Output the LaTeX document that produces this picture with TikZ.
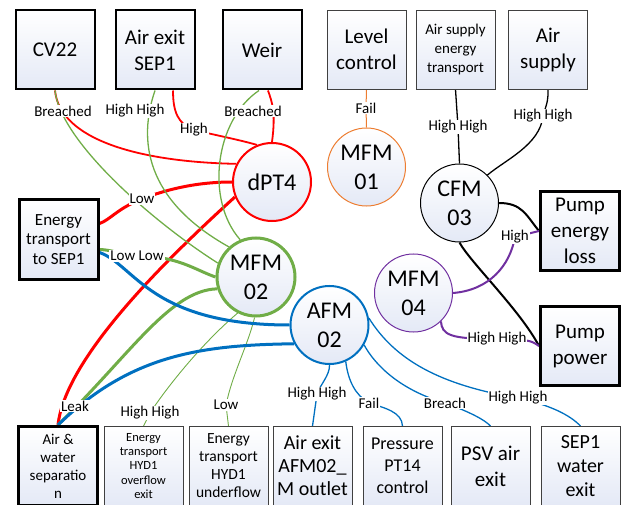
\documentclass[tikz,border=0pt]{standalone}
\usepackage{fontspec}
\setmainfont{Carlito}
\usepackage{xcolor}
\usepackage{tikz}
\usetikzlibrary{backgrounds}
\definecolor{fmred}{RGB}{255,0,0}
\definecolor{fmgreen}{RGB}{112,173,71}
\definecolor{fmblue}{RGB}{0,112,192}
\definecolor{fmorange}{RGB}{237,125,49}
\definecolor{fmpurple}{RGB}{112,48,160}
\definecolor{fmfill}{RGB}{228,233,246}

\begin{document}
\begin{tikzpicture}[x=1pt, y=-1pt]
	\tikzstyle{fmbox}=[rectangle, draw=black!75, line width=0.9pt, minimum width=79pt, minimum height=79pt, inner sep=1pt, align=center, top color=white, bottom color=fmfill, font=\fontsize{21}{26}\selectfont]
	\tikzstyle{fmthick}=[draw=black, line width=2pt]
	\tikzstyle{fmheavy}=[draw=black, line width=3pt]
	\tikzstyle{fmcircle}=[circle, minimum size=78pt, inner sep=0pt, align=center, top color=white, bottom color=fmfill, font=\fontsize{24}{29}\selectfont]
	\tikzstyle{fmlabel}=[fill=white, inner sep=1pt, font=\fontsize{15}{17}\selectfont]

	\useasboundingbox (0,0) rectangle (621,505);

	% top row
	\node[fmbox, fmthick] (cv) at (55,50) {CV22};
	\node[fmbox, fmthick] (airsep) at (155,50) {Air exit\\SEP1};
	\node[fmbox, fmthick] (weir) at (262,50) {Weir};
	\node[fmbox] (level) at (366.5,49.5) {Level\\control};
	\node[fmbox, font=\fontsize{15}{19}\selectfont] (aset) at (455.5,49.5) {Air supply\\energy\\transport};
	\node[fmbox] (airsup) at (548,49.5) {Air\\supply};

	% side boxes
	\node[fmbox, fmheavy, font=\fontsize{17}{19.5}\selectfont] (etsep) at (58.5,239.5) {Energy\\transport\\to SEP1};
	\node[fmbox, fmheavy] (pel) at (580,231) {Pump\\energy\\loss};
	\node[fmbox, fmheavy] (pp) at (580,346) {Pump\\power};

	% bottom row
	\node[fmbox, fmheavy, font=\fontsize{15}{18}\selectfont] (aws) at (58,466) {Air \&\\water\\separatio\\n};
	\node[fmbox, font=\fontsize{12.5}{14.2}\selectfont] (hyd1o) at (143.5,466) {Energy\\transport\\HYD1\\overflow\\exit};
	\node[fmbox, font=\fontsize{15.5}{18}\selectfont] (hyd1u) at (228.5,466) {Energy\\transport\\HYD1\\underflow};
	\node[fmbox, font=\fontsize{20}{23}\selectfont] (afmout) at (312.5,466) {Air exit\\AFM02\_\\M outlet};
	\node[fmbox, font=\fontsize{18}{22}\selectfont] (pt14) at (402.5,466) {Pressure\\PT14\\control};
	\node[fmbox] (psv) at (490.5,466) {PSV air\\exit};
	\node[fmbox, font=\fontsize{20}{24}\selectfont] (sepw) at (580.5,466) {SEP1\\water\\exit};

	% function modules
	\node[fmcircle, draw=fmred, line width=2pt] (dpt) at (272,182) {dPT4};
	\node[fmcircle, draw=fmorange, line width=1pt] (mfm1) at (366.5,167) {MFM\\01};
	\node[fmcircle, draw=black, line width=1pt] (cfm) at (459.5,203) {CFM\\03};
	\node[fmcircle, draw=fmgreen, line width=3pt] (mfm2) at (256,277) {MFM\\02};
	\node[fmcircle, draw=fmblue, line width=2pt] (afm) at (329.5,325) {AFM\\02};
	\node[fmcircle, draw=fmpurple, line width=1pt] (mfm4) at (413.5,293) {MFM\\04};

	\foreach \n/\x/\y/\t in {lbBrCV/63/111/Breached, lbHHas/135/111/High High, lbHigh/194/130/High,
		lbBrWeir/253/111/Breached, lbLow/142/199/Low, lbLowLow/137/256/Low Low, lbLeak/75/406/Leak,
		lbHHo/150/413/High High, lbLowU/226/405/Low, lbHHafm/317/394/High High, lbFailB/369/403/Fail,
		lbBreach/445/403/Breach, lbHHsep/518/398/High High, lbFailA/366/108/Fail,
		lbHHaset/458/127/High High, lbHHsup/543/116/High High, lbHighP/515/237/High, lbHHpp/497/339/High High}{
		\node[fmlabel] (\n) at (\x,\y) {\t};
	}

	\begin{scope}[on background layer]
		% dPT4
		\draw[fmred, line width=1.8pt] (cv.south) .. controls (60,140) and (140,162) .. (dpt.153);
		\draw[fmred, line width=1.8pt] ([xshift=18pt]airsep.south) .. controls (173,112) and (178,124) .. (lbHigh.center) .. controls (215,135) and (240,140) .. (dpt.112);
		\draw[fmred, line width=1.8pt] ([xshift=6pt]weir.south) .. controls (272,102) and (276,112) .. (dpt.north);
		\draw[fmred, line width=3pt] ([yshift=16pt]etsep.east) .. controls (110,220) and (118,208) .. (lbLow.center) .. controls (170,188) and (200,182) .. (dpt.west);
		\draw[fmred, line width=3pt] (dpt.202) .. controls (160,265) and (65,360) .. (aws.north);

		% MFM02
		\draw[fmgreen, line width=1.3pt] (cv.south) .. controls (60,140) and (150,220) .. (mfm2.160);
		\draw[fmgreen, line width=1.3pt] (airsep.south) .. controls (138,140) and (145,200) .. (mfm2.132);
		\draw[fmgreen, line width=1.3pt] ([xshift=-3pt]weir.south) .. controls (215,120) and (205,200) .. (mfm2.113);
		\draw[fmgreen, line width=3pt] ([yshift=-10pt]etsep.east) .. controls (115,250) and (125,256) .. (lbLowLow.center) .. controls (178,256) and (195,270) .. (mfm2.west);
		\draw[fmgreen, line width=3pt] (mfm2.197) .. controls (170,290) and (130,355) .. (aws.north);
		\draw[fmgreen, line width=0.9pt] (mfm2.243) .. controls (200,345) and (165,390) .. (lbHHo.center) -- (hyd1o.north);
		\draw[fmgreen, line width=0.9pt] (mfm2.268) .. controls (248,345) and (232,375) .. (lbLowU.center) -- (hyd1u.north);

		% AFM02
		\draw[fmblue, line width=3pt] ([yshift=-13pt]etsep.east) .. controls (135,265) and (150,325) .. (afm.west);
		\draw[fmblue, line width=3pt] (afm.208) .. controls (200,345) and (130,355) .. (aws.north);
		\draw[fmblue, line width=1.3pt] (afm.south) .. controls (330,375) and (320,385) .. (lbHHafm.center) -- (afmout.north);
		\draw[fmblue, line width=1.3pt] (afm.294) .. controls (348,380) and (355,395) .. (lbFailB.center) .. controls (385,408) and (402,412) .. (pt14.north);
		\draw[fmblue, line width=1.3pt] (afm.330) .. controls (375,365) and (400,390) .. (lbBreach.center) .. controls (470,412) and (485,420) .. (psv.north);
		\draw[fmblue, line width=1.3pt] (afm.10) .. controls (395,360) and (440,385) .. (lbHHsep.center) .. controls (550,405) and (570,415) .. (sepw.north);

		% MFM01
		\draw[fmorange, line width=1pt] (level.south) -- (lbFailA.center) -- (mfm1.north);

		% CFM03
		\draw[line width=1.3pt] (aset.south) -- (lbHHaset.center) -- (cfm.north);
		\draw[line width=1.3pt] (airsup.south) .. controls (548,100) .. (lbHHsup.center) .. controls (540,145) and (505,160) .. (cfm.45);
		\draw[line width=2pt] (cfm.east) .. controls (522,203) and (526,215) .. (pel.west);
		\draw[line width=2pt] (cfm.south) .. controls (470,262) and (520,310) .. (pp.west);

		% MFM04
		\draw[fmpurple, line width=2pt] (mfm4.east) .. controls (490,290) and (510,265) .. (lbHighP.center) -- (pel.west);
		\draw[fmpurple, line width=2pt] (mfm4.314) .. controls (442,335) and (450,339) .. (lbHHpp.center) .. controls (530,340) .. (pp.west);
	\end{scope}
\end{tikzpicture}
\end{document}
